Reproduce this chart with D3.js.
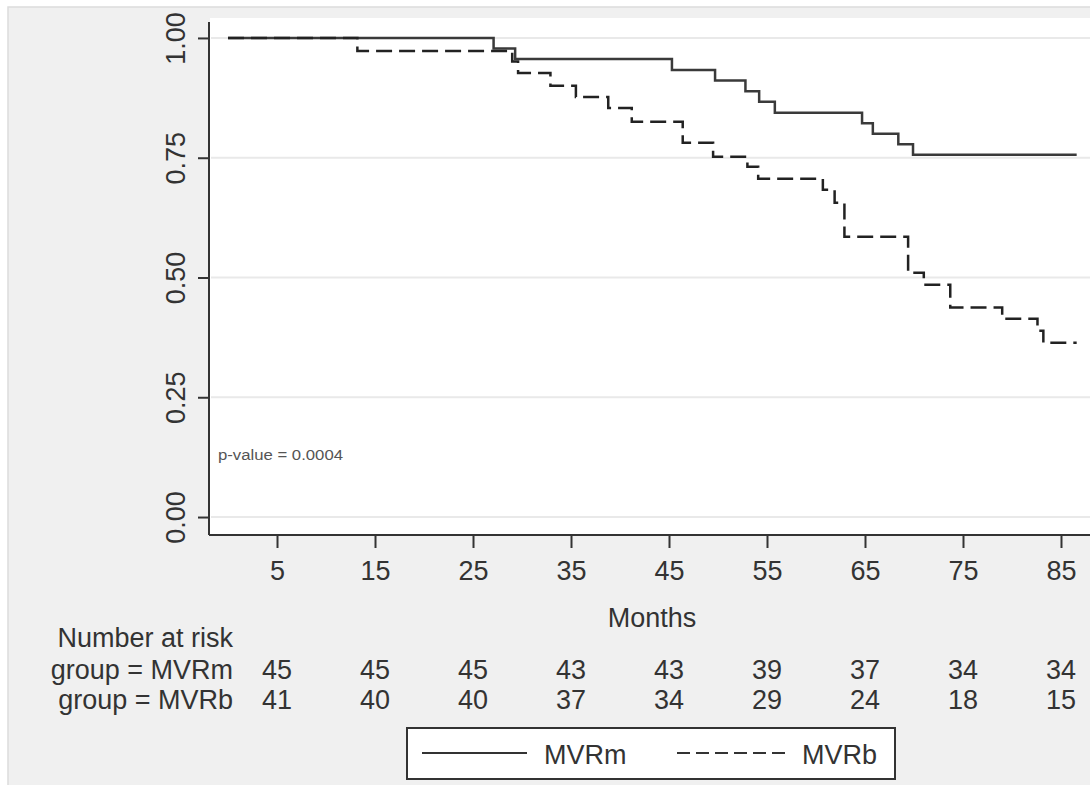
<!DOCTYPE html>
<html>
<head>
<meta charset="utf-8">
<script src="https://cdn.jsdelivr.net/npm/d3@7"></script>
<style>
	body { margin: 0; background: #fff; }
	text { font-family: 'Liberation Sans', Arial, sans-serif; fill: #333; }
</style>
</head>
<body>
<script>
// Data
var groups = ['MVRm', 'MVRb'];
var timesMVRm = [27.1, 29.3, 45.3, 49.7, 52.8, 54.2, 55.8, 64.7, 65.8, 68.4, 69.9];
var survMVRm = [0.978, 0.956, 0.933, 0.911, 0.889, 0.867, 0.844, 0.822, 0.8, 0.778, 0.756];
var timesMVRb = [13.2, 29.0, 29.6, 32.9, 35.5, 38.8, 41.2, 46.4, 49.5, 53.0, 54.1, 60.7, 61.9, 62.9, 69.4, 71.0, 73.7, 79.0, 82.6, 83.2];
var survMVRb = [0.973, 0.951, 0.927, 0.9, 0.877, 0.854, 0.825, 0.781, 0.752, 0.731, 0.706, 0.683, 0.656, 0.585, 0.51, 0.485, 0.4375, 0.414, 0.389, 0.364];
var lastFollowUp = [86.6, 86.6];
var xTicks = [5, 15, 25, 35, 45, 55, 65, 75, 85];
var yTicks = [0, 0.25, 0.5, 0.75, 1];
var riskMVRm = [45, 45, 45, 43, 43, 39, 37, 34, 34];
var riskMVRb = [41, 40, 40, 37, 34, 29, 24, 18, 15];
var pText = 'p-value = 0.0004';

// Set dimensions
var W = 1090, H = 785;
var margin = { top: 22, left: 209 };
var width = W - margin.left,
	height = 535 - margin.top;
var fs = '27px';

var x = d3.scaleLinear().domain([-1.94, 87.96]).range([0, width]);
var y = d3.scaleLinear().domain([-0.0375, 1.0333]).range([height, 0]);

var svg = d3
	.select('body')
	.append('svg')
	.attr('width', W)
	.attr('height', H);

// Outer grey frame (runs off the right and bottom edge)
svg
	.append('rect')
	.attr('x', 8)
	.attr('y', 7)
	.attr('width', W + 10)
	.attr('height', H + 10)
	.attr('fill', '#f0f0f0')
	.attr('stroke', '#dcdcdc')
	.attr('stroke-width', 1.5);

var g = svg
	.append('g')
	.attr('transform', 'translate(' + margin.left + ',' + margin.top + ')');

// White plot region
g.append('rect')
	.attr('x', 1)
	.attr('y', -4)
	.attr('width', width)
	.attr('height', height + 4)
	.attr('fill', '#fff');

// Gridlines
g.selectAll('.grid')
	.data(yTicks)
	.enter()
	.append('line')
	.attr('class', 'grid')
	.attr('x1', 2)
	.attr('x2', width)
	.attr('y1', d => y(d))
	.attr('y2', d => y(d))
	.attr('stroke', '#e9e9e9')
	.attr('stroke-width', 2);

// Y axis
var yAxis = g
	.append('g')
	.attr('class', 'y axis')
	.call(d3.axisLeft(y).tickValues(yTicks).tickFormat(d3.format('.2f')).tickSize(11).tickSizeOuter(0));
yAxis.select('.domain').remove();
yAxis.selectAll('line').attr('stroke', '#333').attr('stroke-width', 2);
yAxis
	.selectAll('text')
	.attr('transform', 'rotate(-90)')
	.attr('x', 0)
	.attr('y', -24)
	.attr('dy', 0)
	.style('text-anchor', 'middle')
	.style('font-size', fs)
	.attr('fill', '#333');
g.append('line')
	.attr('x1', 0)
	.attr('x2', 0)
	.attr('y1', 0)
	.attr('y2', height)
	.attr('stroke', '#333')
	.attr('stroke-width', 2);

// X axis
var xAxis = g
	.append('g')
	.attr('class', 'x axis')
	.attr('transform', 'translate(0,' + height + ')')
	.call(d3.axisBottom(x).tickValues(xTicks).tickSize(13).tickSizeOuter(0));
xAxis.select('.domain').remove();
xAxis.selectAll('line').attr('stroke', '#333').attr('stroke-width', 2);
xAxis
	.selectAll('text')
	.attr('y', 45)
	.attr('dy', 0)
	.style('font-size', fs)
	.attr('fill', '#333');
g.append('line')
	.attr('x1', 0)
	.attr('x2', width)
	.attr('y1', height)
	.attr('y2', height)
	.attr('stroke', '#333')
	.attr('stroke-width', 2);

// Step curves
function steps(times, surv, end) {
	var pts = [{ t: 0, s: 1 }];
	times.forEach((t, i) => pts.push({ t: t, s: surv[i] }));
	pts.push({ t: end, s: surv[surv.length - 1] });
	return pts;
}
var line = d3
	.line()
	.curve(d3.curveStepAfter)
	.x(d => x(d.t))
	.y(d => y(d.s));

g.append('path')
	.datum(steps(timesMVRm, survMVRm, lastFollowUp[0]))
	.attr('d', line)
	.attr('fill', 'none')
	.attr('stroke', '#3a3a3a')
	.attr('stroke-width', 2.5);

g.append('path')
	.datum(steps(timesMVRb, survMVRb, lastFollowUp[1]))
	.attr('d', line)
	.attr('fill', 'none')
	.attr('stroke', '#222')
	.attr('stroke-width', 2.5)
	.attr('stroke-dasharray', '16,7');

// p-value
g.append('text')
	.attr('x', 9)
	.attr('y', y(0.12))
	.attr('textLength', 125)
	.attr('lengthAdjust', 'spacingAndGlyphs')
	.style('font-size', '14px')
	.style('fill', '#555')
	.text(pText);

// X axis title
svg
	.append('text')
	.attr('x', 652)
	.attr('y', 627)
	.style('text-anchor', 'middle')
	.style('font-size', fs)
	.text('Months');

// Number at risk table
var labelX = 233;
svg
	.append('text')
	.attr('x', labelX)
	.attr('y', 647)
	.style('text-anchor', 'end')
	.style('font-size', fs)
	.text('Number at risk');

var riskRows = [riskMVRm, riskMVRb];
riskRows.forEach((row, r) => {
	var by = 679 + r * 30;
	svg
		.append('text')
		.attr('x', labelX)
		.attr('y', by)
		.style('text-anchor', 'end')
		.style('font-size', fs)
		.text('group = ' + groups[r]);
	svg
		.selectAll('.risk' + r)
		.data(row)
		.enter()
		.append('text')
		.attr('class', 'risk' + r)
		.attr('x', (d, i) => margin.left + x(xTicks[i]))
		.attr('y', by)
		.style('text-anchor', 'middle')
		.style('font-size', fs)
		.text(d => d);
});

// Legend
var legend = svg.append('g').attr('transform', 'translate(407,728)');
legend
	.append('rect')
	.attr('width', 488)
	.attr('height', 51)
	.attr('fill', '#fff')
	.attr('stroke', '#333')
	.attr('stroke-width', 2);
legend
	.append('line')
	.attr('x1', 15)
	.attr('x2', 120)
	.attr('y1', 25)
	.attr('y2', 25)
	.attr('stroke', '#333')
	.attr('stroke-width', 2);
legend
	.append('text')
	.attr('x', 137)
	.attr('y', 36)
	.style('font-size', fs)
	.text(groups[0]);
legend
	.append('line')
	.attr('x1', 270)
	.attr('x2', 382)
	.attr('y1', 25)
	.attr('y2', 25)
	.attr('stroke', '#333')
	.attr('stroke-width', 2)
	.attr('stroke-dasharray', '13,6');
legend
	.append('text')
	.attr('x', 395)
	.attr('y', 36)
	.style('font-size', fs)
	.text(groups[1]);
</script>
</body>
</html>
